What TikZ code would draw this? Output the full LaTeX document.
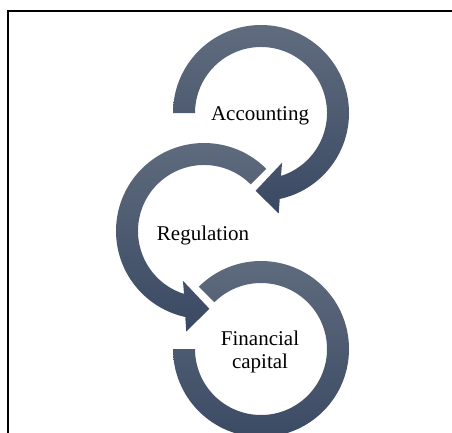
\documentclass[tikz,border=0pt]{standalone}
\usepackage{fontspec}
\setmainfont{Liberation Serif}
\usetikzlibrary{positioning}
\definecolor{ringtop}{RGB}{96,108,126}
\definecolor{ringbot}{RGB}{58,73,99}
\newcommand{\LblFont}{\fontsize{21}{23}\selectfont}

\begin{document}
\begin{tikzpicture}[x=1pt,y=1pt,
    ring/.style={top color=ringtop, bottom color=ringbot, draw=none},
    lbl/.style={font=\LblFont, align=center, inner sep=0pt}]
  \useasboundingbox (0,0) rectangle (452,432);
  \clip (0,0) rectangle (452,432);
  \draw[line width=1.6pt] (8,-20) rectangle (470,421);
  % Accounting ring
  \begin{scope}[shift={(261,319)}]
    \shade[ring] (180:88pt) arc[start angle=180, end angle=-77.7, radius=88pt]
      -- (-80:102pt) -- (-94:78pt) -- (-67:54pt) -- (-72.4:66pt)
      arc[start angle=-72.4, end angle=180, radius=66pt] -- cycle;
  \end{scope}
  % Regulation ring
  \begin{scope}[shift={(204,201)}]
    \shade[ring] (45:88pt) arc[start angle=45, end angle=257.7, radius=88pt]
      -- (260:102pt) -- (274:78pt) -- (247:54pt) -- (252.4:66pt)
      arc[start angle=252.4, end angle=45, radius=66pt] -- cycle;
  \end{scope}
  % Financial capital ring
  \begin{scope}[shift={(261,83)}]
    \shade[ring] (135:88pt) arc[start angle=135, end angle=-180, radius=88pt]
      -- (180:66pt) arc[start angle=-180, end angle=135, radius=66pt] -- cycle;
  \end{scope}
  \node[lbl] (Acc) at (260,316) {Accounting};
  \node[lbl] (Reg) at (203,197) {Regulation};
  \node[lbl] (Fin) at (260,80)  {Financial\\capital};
\end{tikzpicture}
\end{document}
